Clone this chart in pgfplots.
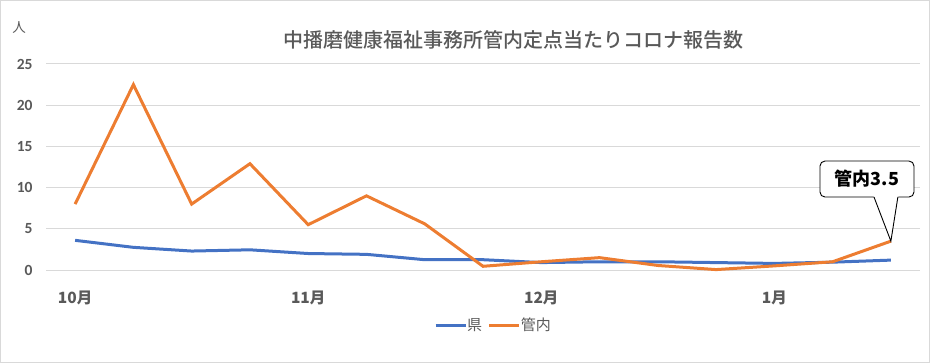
\documentclass[border=0pt]{standalone}
\usepackage{fontspec}
\setmainfont{Carlito}
\newfontfamily\jp{Noto Sans CJK JP}
\newfontfamily\jpm{Noto Sans CJK JP}[UprightFont=* Medium]
\usepackage{pgfplots}
\pgfplotsset{compat=1.18}
\definecolor{exblue}{HTML}{4472C4}
\definecolor{exorange}{HTML}{ED7D31}
\definecolor{txtgray}{HTML}{595959}
\definecolor{gridgray}{HTML}{D9D9D9}
\begin{document}
\begin{tikzpicture}[x=1bp,y=1bp]
\draw[gridgray, line width=1.5bp] (0.75,0.75) rectangle (929.25,362.25);
\node[text=txtgray, font=\jpm\fontsize{20bp}{22bp}\selectfont] at (513,323) {中播磨健康福祉事務所管内定点当たりコロナ報告数};
\node[text=txtgray, font=\jp\fontsize{13.5bp}{15bp}\selectfont] at (19,335) {人};
\begin{axis}[
  at={(46bp,93bp)}, anchor=south west,
  scale only axis, width=874bp, height=206bp,
  xmin=-0.5, xmax=14.5, ymin=0, ymax=25,
  axis line style={draw=none},
  ymajorgrids, grid style={gridgray, line width=1bp},
  ytick={0,5,10,15,20,25},
  xtick={0,4,8,12},
  xticklabels={10月,11月,12月,1月},
  major tick length=0pt,
  /pgf/number format/assume math mode=true,
  tick label style={text=txtgray, font=\bfseries\fontsize{15.5bp}{17bp}\selectfont},
  yticklabel style={xshift=-10bp},
  xticklabel style={yshift=-17bp, font=\jp\bfseries\fontsize{15.5bp}{17bp}\selectfont},
  legend style={at={(0.512,-0.267)}, anchor=center, draw=none, fill=none,
    legend columns=2, font=\jp\fontsize{15bp}{17bp}\selectfont, text=txtgray,
    /tikz/every even column/.append style={column sep=4bp},
    /tikz/every odd column/.append style={column sep=-2bp}},
  legend image code/.code={\draw[#1, line width=3bp] (0bp,0bp) -- (30bp,0bp);},
  clip=false,
]
\addplot[exblue, line width=3bp] coordinates {
(0,3.6) (1,2.75) (2,2.3) (3,2.45) (4,2.0) (5,1.9) (6,1.25) (7,1.25) (8,0.9) (9,1.0) (10,1.0) (11,0.9) (12,0.8) (13,0.95) (14,1.2)
};
\addlegendentry{県}
\addplot[exorange, line width=3bp] coordinates {
(0,8.0) (1,22.5) (2,8.0) (3,12.9) (4,5.5) (5,9.0) (6,5.6) (7,0.45) (8,1.0) (9,1.5) (10,0.55) (11,0.05) (12,0.5) (13,1.0) (14,3.5)
};
\addlegendentry{管内}
\node[draw=black, fill=white, rounded corners=5bp, line width=0.9bp, minimum width=94bp, minimum height=36bp, inner sep=1bp,
  font=\jp\bfseries\fontsize{18bp}{19bp}\selectfont] at (axis cs:13.59,11.04) {管内3.5};
\fill[white] (axis cs:13.70,9.05) -- (axis cs:14,3.5) -- (axis cs:14.13,9.05) -- cycle;
\draw[black, line width=0.9bp] (axis cs:13.71,8.86) -- (axis cs:14,3.5) -- (axis cs:14.12,8.86);
\end{axis}
\end{tikzpicture}
\end{document}
